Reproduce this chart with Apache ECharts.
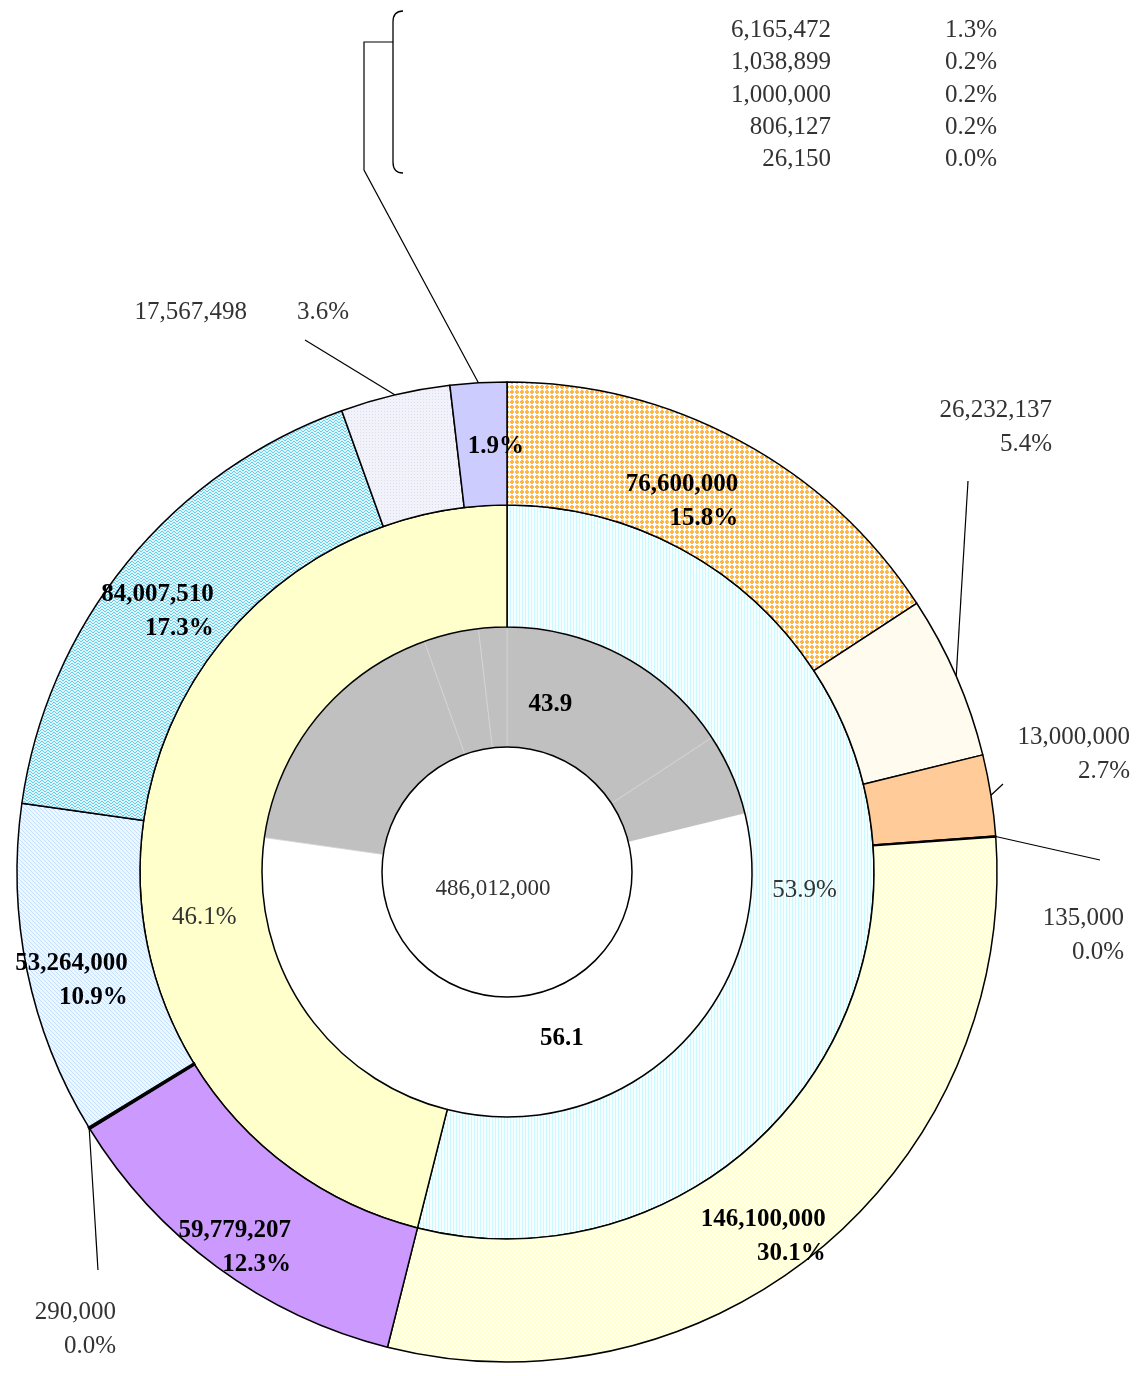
<!DOCTYPE html>
<html>
<head>
<meta charset="utf-8">
<title>pie</title>
<script src="https://cdn.jsdelivr.net/npm/echarts@6/dist/echarts.min.js"></script>
<style>
  html, body { margin: 0; padding: 0; background: #fff; }
  #main { width: 1137px; height: 1376px; }
</style>
</head>
<body>
<div id="main"></div>
<script>
// 外圈：12時から時計回り
var outerValues = [76600000, 26232137, 13000000, 135000, 146100000, 59779207, 290000, 53264000, 84007510, 17567498];
// 1.9% の内訳（上の括弧の一覧）
var otherValues = [6165472, 1038899, 1000000, 806127, 26150];
// 中圈の区分（0 = 53.9%, 1 = 46.1%）
var middleGroupOf = [0, 0, 0, 0, 0, 1, 1, 1, 1, 1, 1];
// 内圈の区分（0 = 灰 43.9, 1 = 白 56.1）
var innerGroupOf = [0, 0, 1, 1, 1, 1, 1, 1, 0, 0, 0];

var FONT = "'Liberation Serif', 'DejaVu Serif', serif";
var FS = 25;
var CENTER = [507, 872];

function sum(arr) { return arr.reduce(function (a, b) { return a + b; }, 0); }

// 最大剰余法で小数1桁の%を出す
function lrPercents(vals, digits) {
  var total = sum(vals);
  var scale = Math.pow(10, digits);
  var raw = vals.map(function (v) { return v / total * 100 * scale; });
  var seats = raw.map(Math.floor);
  var rest = 100 * scale - sum(seats);
  var order = raw.map(function (r, i) { return i; }).sort(function (a, b) {
    return (raw[b] - seats[b]) - (raw[a] - seats[a]);
  });
  for (var k = 0; k < rest; k++) seats[order[k]]++;
  return seats.map(function (s) { return (s / scale).toFixed(digits); });
}

var outerAll = outerValues.concat([sum(otherValues)]);
var groupIndex = outerAll.length - 1;
var total = sum(outerAll);
var pctAll = lrPercents(outerValues.concat(otherValues), 1);
var outerPct = pctAll.slice(0, outerValues.length);
var otherPct = pctAll.slice(outerValues.length);
var groupPct = (outerAll[groupIndex] / total * 100).toFixed(1);

var middleValues = [0, 0];
outerAll.forEach(function (v, i) { middleValues[middleGroupOf[i]] += v; });
var innerTotals = [0, 0];
outerAll.forEach(function (v, i) { innerTotals[innerGroupOf[i]] += v; });

var fmt = echarts.format.addCommas;

// 模様
function makePattern(w, h, bg, paint) {
  var c = document.createElement('canvas');
  c.width = w; c.height = h;
  var ctx = c.getContext('2d');
  ctx.fillStyle = bg;
  ctx.fillRect(0, 0, w, h);
  paint(ctx);
  return { image: c, repeat: 'repeat' };
}
var orangeDots = makePattern(5, 5, '#FFFFFF', function (ctx) {
  ctx.fillStyle = '#FFB547';
  ctx.fillRect(1, 0, 2, 4);
  ctx.fillRect(0, 1, 4, 2);
});
function diag(bg, fg) {
  return makePattern(4, 4, bg, function (ctx) {
    ctx.fillStyle = fg;
    for (var i = 0; i < 4; i++) ctx.fillRect(i, i, 1, 1);
  });
}
var yellowHatch = diag('#FFFFF0', '#FFFFC8');
var blueHatch = diag('#EEF6FF', '#C4E0FF');
var cyanZig = makePattern(6, 3, '#DDF6FC', function (ctx) {
  ctx.fillStyle = '#66CCEE';
  [0, 1, 2, 2, 1, 0].forEach(function (y, x) { ctx.fillRect(x, y, 1, 1); });
});
var lavDots = makePattern(3, 3, '#F2F2FB', function (ctx) {
  ctx.fillStyle = '#DCDCF0';
  ctx.fillRect(0, 0, 1, 1);
});
var cyanLines = makePattern(3, 1, '#F6FFFF', function (ctx) {
  ctx.fillStyle = '#CCF9FF';
  ctx.fillRect(0, 0, 1, 1);
});

var outerFills = [orangeDots, '#FFFCEF', '#FFCC99', '#FFFFE0', yellowHatch, '#CC99FF',
                  '#000000', blueHatch, cyanZig, lavDots, '#CCCCFF'];
var middleFills = [cyanLines, '#FFFFCC'];

// ラベル位置の調整
var insideOffsets = { 0: [-30, 9], 4: [-21, 34], 5: [-17, 28], 7: [-13, 21], 8: [-15, 12], 10: [14, 5] };
var outsideSpots = {
  1: { x: 1052, y: 393, end: [968, 481] },
  2: { x: 1130, y: 720, end: [1003, 784] },
  3: { x: 1124, y: 901, end: [1100, 860] },
  6: { x: 116, y: 1295, end: [98, 1270] },
  9: { x: 349, y: 295, end: [305, 340] }
};
var middleOffsets = [[-9, -20], [4, 83]];
var innerLabelAt = { 0: [-46, -2], 4: [-66, 23] };

var rich = {
  b: { fontFamily: FONT, fontSize: FS, fontWeight: 'bold', color: '#000', lineHeight: 34, align: 'right' },
  n: { fontFamily: FONT, fontSize: FS, color: '#333', lineHeight: 34, align: 'right' }
};

var outerData = outerAll.map(function (v, i) {
  var inside = insideOffsets[i];
  return {
    value: v,
    name: 'o' + i,
    itemStyle: { color: outerFills[i], borderWidth: i === 6 ? 2.6 : 1.5 },
    label: inside ? { position: 'inside', offset: inside } : { position: 'outside', width: 260 },
    labelLine: { show: !inside }
  };
});

var myChart = echarts.init(document.getElementById('main'));

var option = {
  backgroundColor: '#fff',
  animation: false,
  graphic: [
    { type: 'bezierCurve', shape: { x1: 403, y1: 11, cpx1: 393, cpy1: 11, x2: 393, y2: 22 },
      style: { stroke: '#000', lineWidth: 1.3, fill: null } },
    { type: 'line', shape: { x1: 393, y1: 22, x2: 393, y2: 162 },
      style: { stroke: '#000', lineWidth: 1.3 } },
    { type: 'bezierCurve', shape: { x1: 393, y1: 162, cpx1: 393, cpy1: 173, x2: 403, y2: 173 },
      style: { stroke: '#000', lineWidth: 1.3, fill: null } }
  ],
  series: [
    // 内圈
    {
      type: 'pie', center: CENTER, radius: [125, 245], startAngle: 90, silent: true,
      avoidLabelOverlap: false,
      data: outerAll.map(function (v, i) {
        var gray = innerGroupOf[i] === 0;
        return {
          value: v, name: 'i' + i,
          itemStyle: gray ? { color: '#C0C0C0', borderColor: '#D4D4D4', borderWidth: 0.8 }
                          : { color: '#FFFFFF', borderWidth: 0 },
          label: { show: !!innerLabelAt[i], offset: innerLabelAt[i] || [0, 0] }
        };
      }),
      label: {
        position: 'inside',
        fontFamily: FONT, fontSize: FS, fontWeight: 'bold', color: '#000',
        formatter: function (p) {
          return (innerTotals[innerGroupOf[p.dataIndex]] / total * 100).toFixed(1);
        }
      },
      labelLine: { show: false }
    },
    // 中心
    {
      type: 'pie', center: CENTER, radius: [0, 125], silent: true,
      data: [{ value: total, name: 'total' }],
      itemStyle: { color: '#FFFFFF', borderColor: '#000', borderWidth: 1.5 },
      label: {
        position: 'center', offset: [-14, 17],
        fontFamily: FONT, fontSize: 23, color: '#333',
        formatter: function () { return fmt(total); }
      },
      labelLine: { show: false }
    },
    // 中圈
    {
      type: 'pie', center: CENTER, radius: [245, 367], startAngle: 90, silent: true,
      avoidLabelOverlap: false,
      data: middleValues.map(function (v, i) {
        return { value: v, name: 'm' + i, itemStyle: { color: middleFills[i] }, label: { offset: middleOffsets[i] } };
      }),
      itemStyle: { borderColor: '#000', borderWidth: 1.5 },
      label: {
        position: 'inside',
        fontFamily: FONT, fontSize: FS, color: '#333',
        formatter: function (p) { return (p.value / total * 100).toFixed(1) + '%'; }
      },
      labelLine: { show: false }
    },
    // 外圈
    {
      type: 'pie', center: CENTER, radius: [367, 490], startAngle: 90, silent: true,
      avoidLabelOverlap: false,
      data: outerData,
      itemStyle: { borderColor: '#000', borderWidth: 1.5 },
      label: {
        fontFamily: FONT, fontSize: FS, lineHeight: 34,
        rich: rich,
        formatter: function (p) {
          var i = p.dataIndex;
          if (i === groupIndex) return '{b|' + groupPct + '%}';
          var tag = insideOffsets[i] ? 'b' : 'n';
          var val = fmt(outerAll[i]);
          var pct = outerPct[i] + '%';
          if (i === 9) return '{n|' + val + '        ' + pct + '}';
          return '{' + tag + '|' + val + '}\n{' + tag + '|' + pct + '}';
        }
      },
      labelLine: { lineStyle: { color: '#000', width: 1.2 } },
      labelLayout: function (params) {
        var spot = outsideSpots[params.dataIndex];
        if (!spot) return {};
        var pts = params.labelLinePoints;
        var start = pts && pts.length ? pts[0] : spot.end;
        return {
          x: spot.x, y: spot.y, align: 'right', verticalAlign: 'top',
          labelLinePoints: [start, spot.end]
        };
      }
    },
    // 1.9% の内訳
    {
      type: 'pie', center: CENTER, radius: [367, 490], startAngle: 90, silent: true,
      avoidLabelOverlap: false,
      data: outerAll.map(function (v, i) {
        return { value: v, name: 'b' + i, label: { show: i === groupIndex }, labelLine: { show: i === groupIndex } };
      }),
      itemStyle: { color: 'rgba(0,0,0,0)', borderWidth: 0 },
      label: {
        position: 'outside', width: 366,
        formatter: function () {
          return otherValues.map(function (v, k) {
            return '{v|' + fmt(v) + '}{p|' + otherPct[k] + '%}';
          }).join('\n');
        },
        rich: {
          v: { fontFamily: FONT, fontSize: FS, color: '#333', lineHeight: 32.4, width: 200, align: 'right' },
          p: { fontFamily: FONT, fontSize: FS, color: '#333', lineHeight: 32.4, width: 166, align: 'right' }
        }
      },
      labelLine: { lineStyle: { color: '#000', width: 1.2 } },
      labelLayout: function (params) {
        if (params.dataIndex !== groupIndex) return {};
        var pts = params.labelLinePoints;
        var start = pts && pts.length ? pts[0] : [364, 170];
        return {
          x: 631, y: 14, align: 'left', verticalAlign: 'top',
          labelLinePoints: [start, [364, 170], [364, 42], [393, 42]]
        };
      }
    }
  ]
};

myChart.setOption(option);
</script>
</body>
</html>
